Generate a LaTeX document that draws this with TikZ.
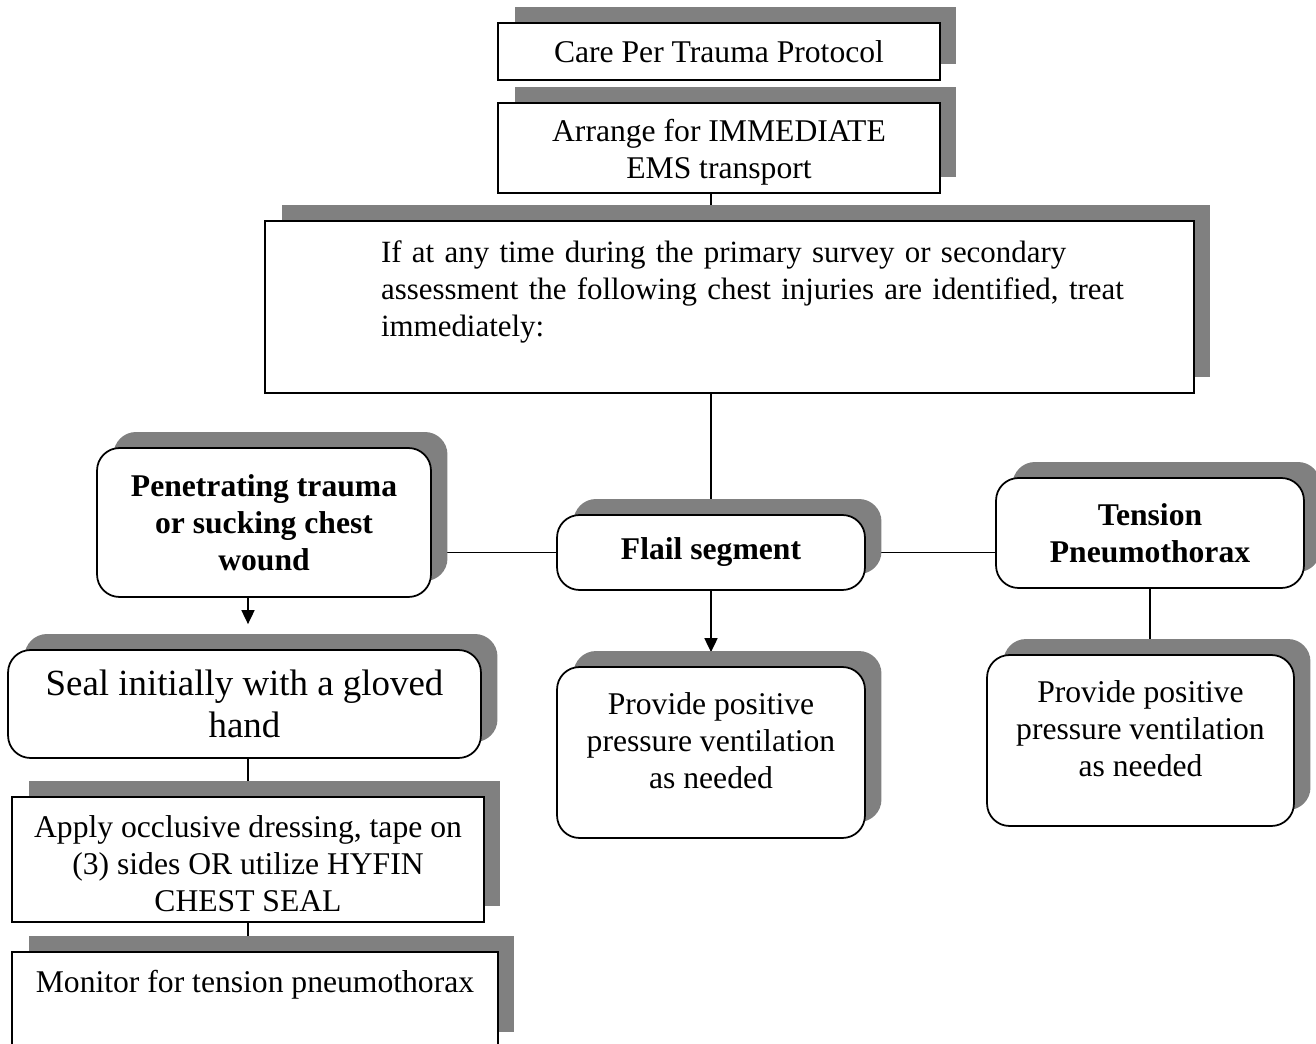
\documentclass[tikz,border=0pt]{standalone}
\usepackage{fontspec}
\setmainfont{Liberation Serif}
\usetikzlibrary{arrows.meta, shadows, backgrounds}
\definecolor{shadowgray}{HTML}{808080}

\begin{document}
\begin{tikzpicture}[x=0.02cm, y=-0.02cm, >={Triangle[length=0.28cm, width=0.26cm]},
  sqbox/.style={draw, line width=1pt, fill=white, rectangle, align=center, inner sep=0.1cm,
    general shadow={fill=shadowgray, shadow xshift=0.33cm, shadow yshift=0.32cm},
    font=\fontsize{18pt}{21pt}\selectfont},
  rbox/.style={sqbox, rounded corners=0.45cm},
  link/.style={line width=1pt}]
  \useasboundingbox (0,0) rectangle (1316,1044);

  \node[sqbox, minimum width=8.84cm, minimum height=1.14cm] (care) at (719,51.5) {Care Per Trauma Protocol};
  \node[sqbox, minimum width=8.84cm, minimum height=1.8cm] (ems) at (719,148) {\mbox{}\\[-3pt]Arrange for IMMEDIATE\\EMS transport};
  \node[sqbox, font=\fontsize{17.6pt}{21pt}\selectfont, align=left, text width=13.94cm, minimum width=18.58cm, minimum height=3.44cm] (survey) at (729.5,307)
    {\mbox{If at any time during the primary survey or secondary}\\
     \mbox{assessment the following chest injuries are identified, treat}\\
     \mbox{immediately:}\\ \mbox{}};

  \node[rbox, font=\fontsize{18pt}{21pt}\selectfont\bfseries, minimum width=6.68cm, minimum height=2.98cm] (pen) at (264,522.5) {Penetrating trauma\\or sucking chest\\wound};
  \node[rbox, font=\fontsize{18pt}{21pt}\selectfont\bfseries, minimum width=6.16cm, minimum height=1.5cm] (flail) at (711,552.5) {Flail segment};
  \node[rbox, font=\fontsize{18pt}{21pt}\selectfont\bfseries, minimum width=6.16cm, minimum height=2.2cm] (tension) at (1150,533) {Tension\\Pneumothorax};

  \node[rbox, font=\fontsize{21pt}{24pt}\selectfont, minimum width=9.46cm, minimum height=2.16cm] (seal) at (244.5,704) {Seal initially with a gloved\\hand};
  \node[sqbox, minimum width=9.44cm, minimum height=2.5cm] (apply) at (248,859.5) {\mbox{}\\[-4pt]Apply occlusive dressing, tape on\\(3) sides OR utilize HYFIN\\CHEST SEAL};
  \node[sqbox, minimum width=9.72cm, minimum height=1.92cm] (monitor) at (255,1000) {Monitor for tension pneumothorax\\ \mbox{}};

  \node[rbox, minimum width=6.16cm, minimum height=3.42cm] (midvent) at (711,752.5) {Provide positive\\pressure ventilation\\as needed\\[-7.4pt]\mbox{}};
  \node[rbox, minimum width=6.14cm, minimum height=3.42cm] (rightvent) at (1140.5,740.5) {Provide positive\\pressure ventilation\\as needed\\[-7.4pt]\mbox{}};

  % connectors go under the shadows
  \begin{pgfonlayer}{background}
    \draw[link] (ems.south -| flail.north) -- (survey.north -| flail.north);
    \draw[link] (survey.south -| flail.north) -- (flail.north);
    \draw[link] (flail.west) -- (flail.west -| pen.east);
    \draw[link] (flail.east) -- (flail.east -| tension.west);
    \draw[link, ->, shorten >=0.5cm] (pen.south -| apply.north) -- (apply.north |- seal.north);
    \draw[link] (seal.south -| apply.north) -- (apply.north);
    \draw[link] (apply.south) -- (apply.south |- monitor.north);
    \draw[link, ->, shorten >=0.28cm] (flail.south) -- (flail.south |- midvent.north);
    \draw[link] (tension.south) -- (tension.south |- rightvent.north);
  \end{pgfonlayer}
\end{tikzpicture}
\end{document}
